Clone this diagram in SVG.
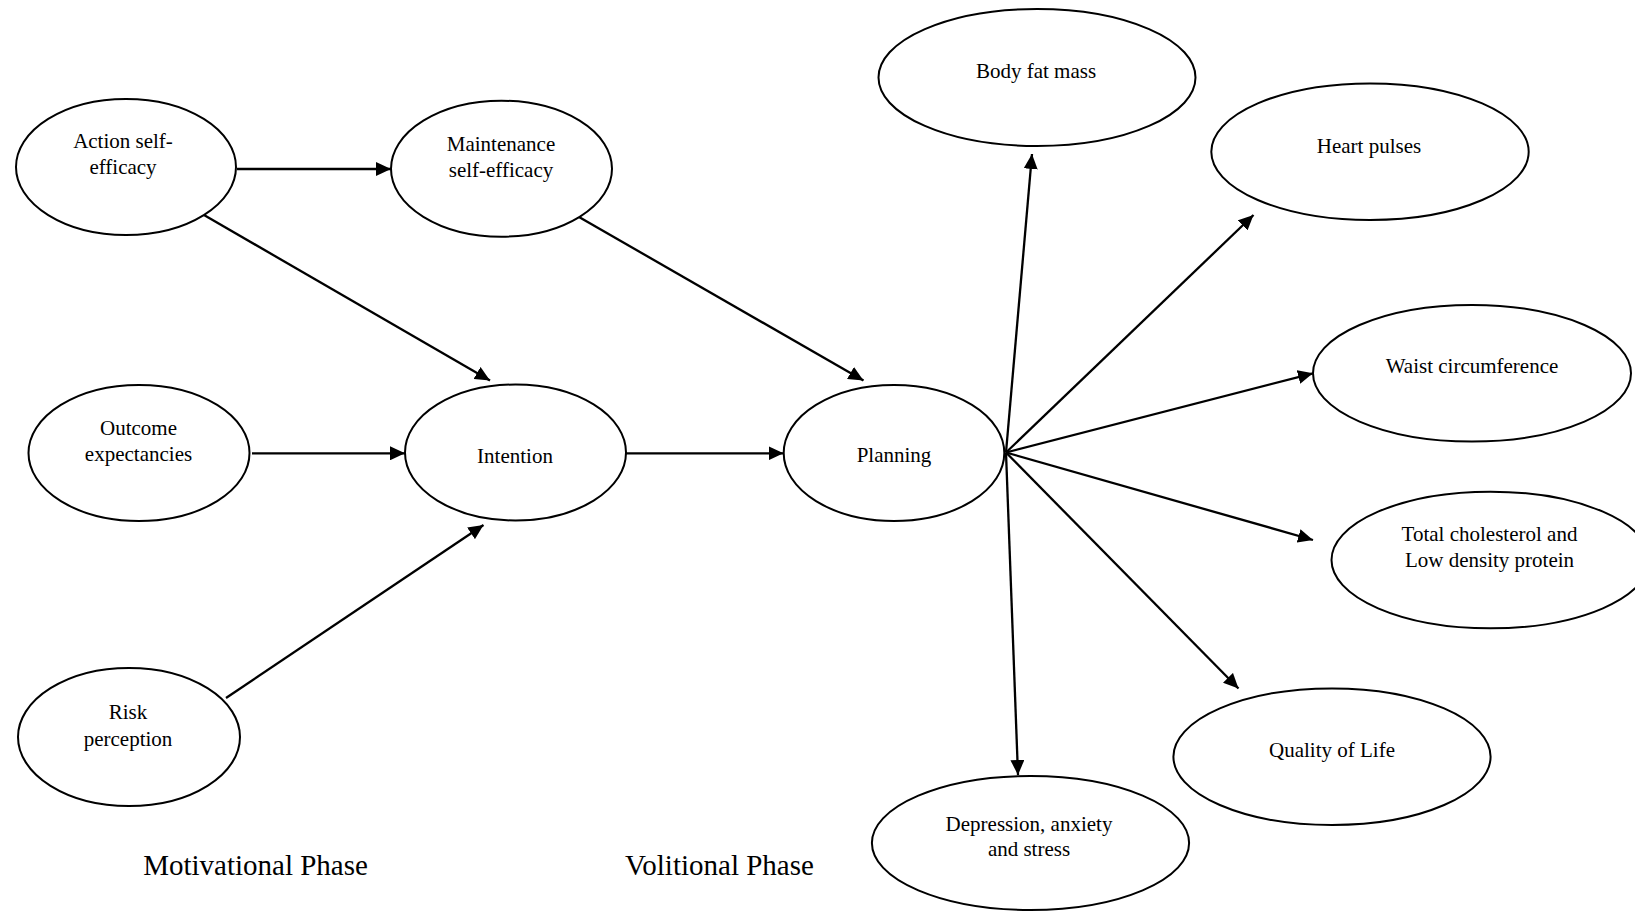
<svg xmlns="http://www.w3.org/2000/svg" width="1635" height="911" viewBox="0 0 1635 911">
<style>
.n{fill:#fff;stroke:#000;stroke-width:2}
.t{font-family:"Liberation Serif","Times New Roman",serif;font-size:21px;fill:#000;text-anchor:middle}
.p{font-family:"Liberation Serif","Times New Roman",serif;font-size:29px;fill:#000;text-anchor:middle}
.c line{stroke:#000;stroke-width:2.3;marker-end:url(#ah)}
</style>
<defs>
<marker id="ah" markerUnits="userSpaceOnUse" markerWidth="16" markerHeight="14" refX="15" refY="7" orient="auto">
<path d="M0,0 L15,7 L0,14 z" fill="#000"/>
</marker>
</defs>
<rect width="1635" height="911" fill="#fff"/>
<g id="connectors" class="c">
<line x1="237" y1="169" x2="391" y2="169"/>
<line x1="204" y1="215" x2="490" y2="380.5"/>
<line x1="579" y1="217" x2="863.5" y2="380.5"/>
<line x1="252" y1="453.3" x2="405" y2="453.3"/>
<line x1="226" y1="698" x2="483.5" y2="525"/>
<line x1="626" y1="453.3" x2="783.5" y2="453.3"/>
<line x1="1006" y1="452.5" x2="1032" y2="154"/>
<line x1="1006" y1="452.5" x2="1253.5" y2="215"/>
<line x1="1006" y1="452.5" x2="1313" y2="373.3"/>
<line x1="1006" y1="452.5" x2="1313" y2="540"/>
<line x1="1006" y1="452.5" x2="1238.5" y2="688.5"/>
<line x1="1006" y1="452.5" x2="1018" y2="775"/>
</g>
<g id="action">
<ellipse class="n" cx="126" cy="167" rx="110" ry="68"/>
<text class="t" x="123" y="148">Action self-</text>
<text class="t" x="123" y="174">efficacy</text>
</g>
<g id="maintenance">
<ellipse class="n" cx="501.5" cy="168.7" rx="110.5" ry="68"/>
<text class="t" x="501" y="151">Maintenance</text>
<text class="t" x="501" y="177">self-efficacy</text>
</g>
<g id="outcome">
<ellipse class="n" cx="139" cy="453" rx="110.5" ry="68"/>
<text class="t" x="138.5" y="435">Outcome</text>
<text class="t" x="138.5" y="461">expectancies</text>
</g>
<g id="intention">
<ellipse class="n" cx="515.5" cy="452.5" rx="110.5" ry="68"/>
<text class="t" x="515" y="463">Intention</text>
</g>
<g id="risk">
<ellipse class="n" cx="129" cy="737" rx="111" ry="69"/>
<text class="t" x="128" y="719">Risk</text>
<text class="t" x="128" y="745.5">perception</text>
</g>
<g id="planning">
<ellipse class="n" cx="894" cy="453" rx="110.3" ry="68"/>
<text class="t" x="894" y="462">Planning</text>
</g>
<g id="bodyfat">
<ellipse class="n" cx="1037" cy="77.5" rx="158.5" ry="68.5"/>
<text class="t" x="1036" y="78">Body fat mass</text>
</g>
<g id="heart">
<ellipse class="n" cx="1370" cy="151.7" rx="158.7" ry="68.3"/>
<text class="t" x="1369" y="153">Heart pulses</text>
</g>
<g id="waist">
<ellipse class="n" cx="1472" cy="373.3" rx="159" ry="68.3"/>
<text class="t" x="1472" y="373">Waist circumference</text>
</g>
<g id="cholesterol">
<ellipse class="n" cx="1490.5" cy="560" rx="159" ry="68.3"/>
<text class="t" x="1489.5" y="540.5">Total cholesterol and</text>
<text class="t" x="1489.5" y="566.5">Low density protein</text>
</g>
<g id="quality">
<ellipse class="n" cx="1332" cy="756.7" rx="158.6" ry="68.3"/>
<text class="t" x="1332" y="757">Quality of Life</text>
</g>
<g id="depression">
<ellipse class="n" cx="1030.5" cy="843" rx="158.6" ry="67"/>
<text class="t" x="1029" y="830.5">Depression, anxiety</text>
<text class="t" x="1029" y="856">and stress</text>
</g>
<text class="p" x="255.5" y="875">Motivational Phase</text>
<text class="p" x="719.5" y="875">Volitional Phase</text>
</svg>
